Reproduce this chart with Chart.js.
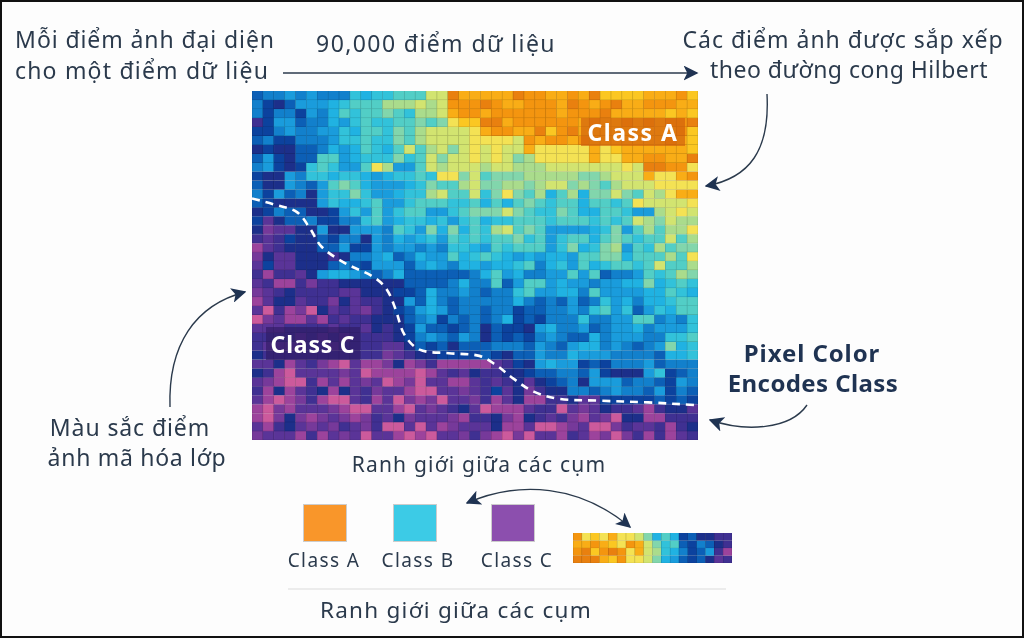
<!DOCTYPE html>
<html lang="vi">
<head>
<meta charset="utf-8">
<title>Hilbert pixel chart</title>
<script src="https://cdn.jsdelivr.net/npm/chart.js@4"></script>
<style>
  html, body { margin: 0; padding: 0; background: #fdfdfd; }
  #wrap { position: relative; width: 1024px; height: 639px; overflow: hidden; font-family: "Noto Sans", sans-serif; color: #2b3a4c; }
  #frame { position: absolute; left: 0; top: 0; width: 1024px; height: 638px; box-sizing: border-box; border: 2px solid #111; }
  canvas { position: absolute; display: block; filter: blur(0.4px); }
  #arrows { position: absolute; left: 0; top: 0; }
  .t { position: absolute; white-space: nowrap; transform: translate(-50%, -50%); line-height: 1; }
  .big { font-size: 23px; letter-spacing: .9px; }
  .bold { font-weight: 700; color: #1f3352; font-size: 24px; }
  .box { position: absolute; color: #fff; font-weight: 700; font-size: 23px; display: flex; align-items: center; justify-content: center; }
  .swatch { position: absolute; top: 504px; width: 44px; height: 38px; box-sizing: border-box; border: 1px solid #ccc; }
</style>
</head>
<body>
<div id="wrap">
  <canvas id="heat" width="1024" height="639" style="left:0;top:0"></canvas>
  <canvas id="strip" width="159" height="30" style="left:573px;top:533px"></canvas>

  <svg id="arrows" width="1024" height="639" fill="none" stroke="#2b3a4c" stroke-width="1.4">
    <defs>
      <marker id="head" viewBox="0 0 10 10" refX="9" refY="5" markerWidth="15" markerHeight="15" markerUnits="userSpaceOnUse" orient="auto-start-reverse">
        <path d="M0 0 L10 5 L0 10 L2.5 5 Z" fill="#1f3352" stroke="none"/>
      </marker>
    </defs>
    <path d="M283 73 L697 73" marker-end="url(#head)"/>
    <path d="M767 94 C770 150 750 178 706 186" marker-end="url(#head)"/>
    <path d="M170 407 C168 345 195 305 245 292" marker-end="url(#head)"/>
    <path d="M807 405 C790 430 745 432 710 420" marker-end="url(#head)"/>
    <path d="M467 503 C520 480 580 485 630 527" marker-start="url(#head)" marker-end="url(#head)"/>
    <path d="M288 589 L726 589" stroke="#e6e6e6"/>
  </svg>

  <div class="t big" style="left:145px;top:39px">Mỗi điểm ảnh đại diện</div>
  <div class="t big" style="left:142px;top:70px;letter-spacing:1.2px">cho một điểm dữ liệu</div>
  <div class="t big" style="left:436px;top:43px;letter-spacing:1.4px">90,000 điểm dữ liệu</div>
  <div class="t big" style="left:843px;top:39px;letter-spacing:1px">Các điểm ảnh được sắp xếp</div>
  <div class="t big" style="left:849px;top:69px;letter-spacing:.5px">theo đường cong Hilbert</div>
  <div class="t bold" style="left:812px;top:353px;letter-spacing:.9px">Pixel Color</div>
  <div class="t bold" style="left:813px;top:383px;letter-spacing:.4px">Encodes Class</div>
  <div class="t big" style="left:130px;top:427px">Màu sắc điểm</div>
  <div class="t big" style="left:137px;top:457px;letter-spacing:.7px">ảnh mã hóa lớp</div>
  <div class="t" style="left:479px;top:464px;font-size:21px;letter-spacing:1.2px">Ranh giới giữa các cụm</div>
  <div class="t" style="left:456px;top:610px;font-size:22.5px;letter-spacing:1.25px">Ranh giới giữa các cụm</div>

  <div class="box" style="left:581px;top:118px;width:104px;height:28px;background:rgba(205,88,12,.62);letter-spacing:1.5px">Class A</div>
  <div class="box" style="left:266px;top:327px;width:94px;height:33px;background:rgba(45,25,95,.6);letter-spacing:.8px">Class C</div>

  <div id="legend"></div>
  <div id="frame"></div>
</div>

<script>
// class legend
const classNames = ['Class A', 'Class B', 'Class C'];
const classColors = ['#f9962a', '#3ccbe6', '#8c4fae'];

// colour levels, 0 = pink end of class C, 20 = dark orange end of class A
const levelColors = ['#cc5a9c', '#9c439c', '#76399a', '#5a3498', '#3f3092', '#1c2f8a', '#0c429e', '#0c5fb6',
  '#1280cc', '#1a9cdc', '#20b2e2', '#32c2da', '#52cec6', '#82d6ac', '#aadc8c', '#d2e470', '#f4e254',
  '#fbc722', '#f9ad16', '#f4950f', '#e9800f'];

// 41 columns x 39 rows of pixels
const pixelRows = [
  [7,8,8,9,8,9,8,8,8,11,10,11,11,12,12,12,15,15,20,18,18,18,18,18,20,19,19,18,18,19,18,20,17,17,17,17,18,18,18,19,17],
  [8,6,5,7,9,9,9,10,11,12,12,12,14,14,14,15,14,15,19,19,19,20,19,18,18,19,19,19,18,20,19,18,19,20,18,18,19,19,19,18,18],
  [8,6,8,8,6,9,8,10,12,11,12,12,13,12,11,14,14,15,18,19,19,18,19,19,19,19,19,19,18,19,19,19,20,18,18,18,18,18,17,18,17],
  [4,6,9,9,7,8,8,10,9,11,12,11,11,12,12,13,12,13,16,17,17,20,20,18,19,19,19,19,19,19,18,19,18,18,19,18,19,18,19,19,20],
  [6,6,8,9,8,8,9,9,11,10,12,12,11,13,12,14,15,15,15,15,16,18,19,19,18,18,20,17,19,20,18,18,18,18,18,18,18,18,18,19,17],
  [7,8,6,6,8,8,8,9,11,11,12,11,11,13,12,14,15,15,15,15,16,16,16,16,15,19,18,19,19,18,19,18,18,18,18,18,18,18,19,18,17],
  [5,6,5,5,7,7,8,10,9,10,12,11,10,12,15,12,14,15,13,15,16,15,16,15,15,18,16,16,16,16,16,18,16,17,18,18,18,18,18,18,17],
  [7,9,6,5,7,7,12,12,9,10,11,11,11,13,11,12,15,13,15,15,16,15,16,15,13,14,16,16,16,16,16,18,16,16,18,18,19,19,18,18,20],
  [8,9,6,5,6,11,12,11,9,9,12,16,14,9,9,12,15,14,15,15,15,14,15,15,14,14,14,15,15,15,15,15,15,15,16,15,20,20,19,19,16],
  [6,5,5,9,8,11,11,10,11,11,10,9,10,11,11,12,11,16,16,13,15,12,13,13,13,14,14,14,14,14,13,13,14,15,15,15,18,16,16,18,19],
  [7,5,5,9,8,7,9,12,13,12,10,9,9,9,10,11,13,12,12,14,15,13,13,14,14,13,14,15,15,13,14,13,12,14,15,15,15,16,16,16,16],
  [8,6,9,7,8,5,9,11,11,13,11,9,9,10,11,11,14,15,12,12,15,11,13,16,13,12,14,10,12,14,10,13,13,15,13,12,15,14,16,18,18],
  [7,6,5,5,5,5,9,11,10,10,11,12,9,9,11,12,12,12,11,11,12,10,12,10,12,13,12,11,12,12,10,12,12,11,12,16,15,15,15,15,16],
  [5,6,8,7,7,5,5,6,9,11,9,12,9,11,12,12,9,9,11,12,13,13,13,15,13,12,11,11,13,12,10,10,12,12,11,9,9,14,15,16,15],
  [6,3,5,7,7,8,6,6,8,8,11,12,9,10,11,11,10,11,9,11,12,10,11,11,12,12,12,11,12,12,12,11,12,11,12,15,14,13,15,14,14],
  [5,2,3,3,5,5,9,5,5,9,9,9,8,12,11,9,13,10,13,10,12,11,14,15,12,13,12,9,9,9,9,10,11,13,9,12,14,12,14,14,16],
  [4,3,4,6,5,5,7,6,8,8,5,9,8,10,9,10,11,9,12,11,12,11,12,12,13,11,12,9,11,12,12,10,12,13,12,11,12,12,15,12,14],
  [1,3,4,5,5,5,7,7,9,6,6,9,8,9,9,8,9,8,11,11,10,9,12,11,12,12,12,9,11,13,10,11,13,14,9,12,11,14,12,13,13],
  [2,5,3,3,5,5,5,4,5,8,8,9,10,7,8,10,9,9,12,10,11,12,11,10,9,10,9,10,10,9,12,12,13,13,10,12,12,12,14,12,16],
  [3,6,3,3,5,5,5,7,8,7,6,9,9,9,7,9,10,9,8,10,10,9,10,10,11,12,8,10,11,9,12,10,11,12,12,11,12,15,12,12,14],
  [4,1,4,4,3,5,9,10,10,9,8,7,8,10,7,7,7,7,7,7,8,10,12,9,10,8,8,9,9,12,9,12,7,8,8,9,12,11,12,14,13],
  [3,4,1,1,4,2,4,4,5,5,5,5,5,5,7,7,7,7,8,10,8,8,12,7,9,12,12,9,10,9,9,8,9,9,10,10,13,10,11,12,11],
  [2,3,4,5,4,4,4,4,3,3,5,5,5,6,6,7,10,8,8,9,8,7,8,8,11,12,9,9,10,10,8,12,9,9,9,9,10,10,12,11,10],
  [1,3,5,5,3,4,4,2,5,3,4,4,5,5,9,7,10,8,7,8,8,8,8,8,10,8,7,8,7,9,7,8,11,9,10,8,10,10,11,12,12],
  [3,0,4,1,2,0,5,3,4,3,2,4,5,6,7,9,10,9,7,8,8,7,8,8,6,7,7,8,8,9,8,11,12,9,11,7,9,11,10,12,12],
  [0,2,3,1,1,3,1,4,3,4,4,5,5,5,7,8,9,6,8,7,8,7,8,10,6,7,6,8,8,8,11,8,8,9,9,12,12,8,9,8,11],
  [3,3,3,4,4,4,4,3,4,4,3,5,4,5,6,9,7,7,6,7,8,5,7,6,6,5,9,10,8,8,9,7,8,9,9,10,8,9,9,9,11],
  [4,4,4,4,3,4,3,4,3,4,4,4,4,5,6,8,9,8,7,9,8,5,7,6,7,6,8,9,8,7,7,10,8,9,9,9,8,8,11,11,12],
  [4,3,3,3,3,4,4,3,4,4,4,4,3,3,5,7,6,7,5,7,7,7,8,8,8,7,9,8,7,9,10,10,8,9,8,7,8,9,13,10,11],
  [5,4,4,4,4,4,4,4,4,4,4,4,2,3,4,5,5,6,6,6,6,7,6,5,7,7,9,8,8,10,9,9,9,8,8,8,8,7,10,10,11],
  [3,3,5,1,3,4,2,1,0,3,1,1,2,5,1,2,4,1,1,1,1,1,3,4,6,5,9,10,9,9,6,7,6,8,8,8,9,7,8,8,8],
  [5,4,1,0,3,3,3,3,2,3,0,1,1,1,1,0,1,3,4,3,5,4,4,5,5,6,7,7,8,8,7,9,6,5,5,5,9,11,6,7,8],
  [3,2,1,0,0,4,1,3,1,3,2,3,0,1,2,0,3,3,1,1,3,4,3,4,5,3,5,6,7,8,5,9,9,9,7,8,8,7,6,9,8],
  [4,1,5,1,3,4,5,1,5,3,4,2,3,3,1,0,0,3,3,2,3,4,6,3,5,2,4,5,5,8,8,7,8,9,8,8,7,9,6,8,7],
  [3,1,0,1,2,4,1,0,0,3,4,1,3,0,2,1,2,0,3,3,2,4,1,3,5,1,1,4,4,5,3,3,6,6,6,6,6,7,6,7,6],
  [1,0,2,1,3,3,3,2,1,0,0,3,3,1,0,3,2,3,4,5,3,0,1,1,1,3,4,4,0,3,2,3,5,4,4,3,1,4,5,5,3],
  [1,0,2,5,2,1,2,3,2,1,2,4,3,5,2,3,3,3,2,1,4,4,5,2,1,5,4,3,4,2,1,3,2,0,5,5,1,1,4,4,4],
  [3,1,4,5,3,2,3,2,4,3,2,4,0,0,3,0,3,1,2,3,3,3,5,1,1,3,0,0,1,2,3,0,0,2,4,3,3,4,1,4,5],
  [2,3,3,3,1,4,1,3,2,3,0,3,3,1,0,1,0,3,3,2,4,2,1,0,2,0,3,3,1,4,3,1,2,0,2,4,1,4,1,3,4]
];

// small gradient strip beside the legend
const stripRows = [
  [19,16,17,16,18,16,16,15,13,10,12,10,6,7,5,5,4,4],
  [18,18,19,18,17,16,19,18,15,13,11,12,7,6,8,7,5,4],
  [19,20,17,19,20,19,16,18,15,14,11,10,8,6,7,9,4,1],
  [20,20,20,18,17,19,16,16,15,13,10,9,7,6,7,5,3,4]
];

// dashed boundary, in column / row units of the pixel grid
const boundaryCols = [0, 2.1, 4.1, 5.3, 6.4, 8.5, 11.2, 12.4, 13.2, 14, 15.4, 18.1, 20.9, 22.4, 24.1, 25.9, 28.2, 31.8, 36.4, 40.9];
const boundaryRows = [12, 12.7, 13.5, 15.3, 17.4, 19.2, 20.8, 22.2, 24.4, 27.2, 28.9, 29.3, 29.6, 30.6, 32.2, 33.6, 34.4, 34.6, 34.8, 35.1];

function shade(hex) {
  const n = parseInt(hex.slice(1), 16);
  const mix = c => Math.round(c * 0.82);
  return `rgb(${mix(n >> 16)},${mix((n >> 8) & 255)},${mix(n & 255)})`;
}

// one stacked dataset per row, every cell counts for one unit of height
function rowDatasets(rows) {
  return rows.map(row => ({
    type: 'bar',
    order: 1,
    yAxisID: 'y',
    data: row.map((_, col) => ({ x: col + 0.5, y: 1 })),
    backgroundColor: row.map(v => levelColors[v]),
    borderColor: row.map(v => shade(levelColors[v])),
    borderWidth: 0.7,
    barPercentage: 1,
    categoryPercentage: 1
  }));
}

function baseOptions(padding, rows) {
  return {
    responsive: false,
    animation: false,
    layout: { padding },
    plugins: { legend: { display: false }, tooltip: { enabled: false } },
    scales: {
      x: { type: 'linear', stacked: true, display: false, offset: false, min: 0, max: rows[0].length, ticks: { stepSize: 1 } },
      y: { stacked: true, display: false, reverse: true, min: 0, max: rows.length }
    }
  };
}

const heatOptions = baseOptions({ left: 252, right: 326, top: 91, bottom: 199 }, pixelRows);
heatOptions.scales.yb = { type: 'linear', display: false, reverse: true, min: 0, max: pixelRows.length };

new Chart(document.getElementById('heat'), {
  data: {
    datasets: [
      {
        type: 'line',
        order: 0,
        yAxisID: 'yb',
        data: boundaryCols.map((c, i) => ({ x: c, y: boundaryRows[i] })),
        borderColor: '#ffffff',
        borderWidth: 2.6,
        borderDash: [8, 6],
        tension: 0.35,
        pointRadius: 0,
        fill: false
      },
      ...rowDatasets(pixelRows)
    ]
  },
  options: heatOptions
});

new Chart(document.getElementById('strip'), {
  data: { datasets: rowDatasets(stripRows) },
  options: baseOptions(0, stripRows)
});

// legend squares and their names
const swatchLeft = [303, 393, 491];
const nameCenter = [324, 418, 517];
const legend = document.getElementById('legend');
classNames.forEach((name, i) => {
  const sw = document.createElement('div');
  sw.className = 'swatch';
  sw.style.left = swatchLeft[i] + 'px';
  sw.style.background = classColors[i];
  legend.appendChild(sw);
  const label = document.createElement('div');
  label.className = 't';
  label.style.cssText = `left:${nameCenter[i]}px;top:560px;font-size:19px;letter-spacing:1.4px`;
  label.textContent = name;
  legend.appendChild(label);
});
</script>
</body>
</html>
